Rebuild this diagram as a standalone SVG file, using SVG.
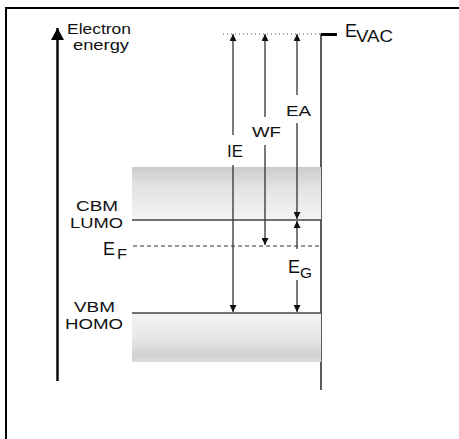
<svg xmlns="http://www.w3.org/2000/svg" width="459" height="439" viewBox="0 0 459 439">
<defs>
<style>
text{font-family:"Liberation Sans",Arial,sans-serif;fill:#111}
.lbl{font-size:15.5px}
.arr{stroke:#333;stroke-width:1.3;fill:none;marker-start:url(#ah);marker-end:url(#ah)}
.lvl{stroke:#444;stroke-width:1.4;fill:none}
</style>
<marker id="ah" markerUnits="userSpaceOnUse" markerWidth="8" markerHeight="7" refX="7" refY="3.5" orient="auto-start-reverse" viewBox="0 0 8 7">
<path d="M0,0 L7,3.5 L0,7 z" fill="#111"/>
</marker>
<marker id="big" markerUnits="userSpaceOnUse" markerWidth="13" markerHeight="13" refX="12" refY="6.5" orient="auto" viewBox="0 0 13 13">
<path d="M0,0 L12,6.5 L0,13 z" fill="#000"/>
</marker>
<linearGradient id="gcb" x1="0" y1="0" x2="0" y2="1">
<stop offset="0" stop-color="#cbcbcb"/>
<stop offset="0.35" stop-color="#e2e2e2"/>
<stop offset="1" stop-color="#f3f3f3"/>
</linearGradient>
<linearGradient id="gvb" x1="0" y1="0" x2="0" y2="1">
<stop offset="0" stop-color="#f3f3f3"/>
<stop offset="0.55" stop-color="#e6e6e6"/>
<stop offset="0.85" stop-color="#d2d2d2"/>
<stop offset="1" stop-color="#dcdcdc"/>
</linearGradient>
</defs>
<rect x="0" y="0" width="459" height="439" fill="#fff"/>
<rect x="6" y="8" width="470" height="450" fill="none" stroke="#000" stroke-width="2"/>

<g id="energy-axis">
<line x1="57.5" y1="381" x2="57.5" y2="28" stroke="#000" stroke-width="2.4" marker-end="url(#big)"/>
<text x="67" y="34" class="lbl" textLength="64" lengthAdjust="spacingAndGlyphs">Electron</text>
<text x="73" y="50" class="lbl" textLength="56" lengthAdjust="spacingAndGlyphs">energy</text>
</g>

<g id="vacuum-level">
<line x1="223" y1="34" x2="321" y2="34" stroke="#555" stroke-width="1" stroke-dasharray="1,3"/>
<path d="M321,390 V34.5 H337" fill="none" stroke="#333" stroke-width="1.6"/>
<line x1="321" y1="34.5" x2="337" y2="34.5" stroke="#000" stroke-width="3"/>
<text x="345" y="37" style="font-size:19px" textLength="12" lengthAdjust="spacingAndGlyphs">E</text>
<text x="356" y="42" style="font-size:16px" textLength="37" lengthAdjust="spacingAndGlyphs">VAC</text>
</g>

<g id="conduction-band">
<rect x="132" y="167" width="189" height="53" fill="url(#gcb)"/>
<line x1="132" y1="220" x2="321" y2="220" class="lvl"/>
<text x="76" y="211" class="lbl" textLength="42" lengthAdjust="spacingAndGlyphs">CBM</text>
<text x="70" y="228" class="lbl" textLength="53" lengthAdjust="spacingAndGlyphs">LUMO</text>
</g>

<g id="fermi-level">
<line x1="133" y1="246" x2="321" y2="246" stroke="#333" stroke-width="1.2" stroke-dasharray="4,3"/>
<text x="103" y="255" style="font-size:18px" textLength="12" lengthAdjust="spacingAndGlyphs">E</text>
<text x="117" y="259" style="font-size:14px" textLength="10" lengthAdjust="spacingAndGlyphs">F</text>
</g>

<g id="valence-band">
<rect x="132" y="313" width="189" height="49" fill="url(#gvb)"/>
<line x1="132" y1="313" x2="321" y2="313" class="lvl"/>
<text x="74" y="312" class="lbl" textLength="41" lengthAdjust="spacingAndGlyphs">VBM</text>
<text x="65" y="329" class="lbl" textLength="58" lengthAdjust="spacingAndGlyphs">HOMO</text>
</g>

<g id="connectors">
<path class="arr" d="M233,34 V135 M233,165 V312"/>
<path class="arr" d="M265,34 V117 M265,145 V245"/>
<path class="arr" d="M297,34 V95 M297,123 V219"/>
<path class="arr" d="M297,221 V249 M297,280 V312"/>
</g>

<g id="labels">
<text x="227" y="157" style="font-size:16px" textLength="16" lengthAdjust="spacingAndGlyphs">IE</text>
<text x="252" y="137" style="font-size:15px" textLength="29" lengthAdjust="spacingAndGlyphs">WF</text>
<text x="286" y="116" style="font-size:15.5px" textLength="25" lengthAdjust="spacingAndGlyphs">EA</text>
<text x="288" y="273" style="font-size:19px" textLength="12" lengthAdjust="spacingAndGlyphs">E</text>
<text x="300" y="278" style="font-size:15px" textLength="12" lengthAdjust="spacingAndGlyphs">G</text>
</g>
</svg>
